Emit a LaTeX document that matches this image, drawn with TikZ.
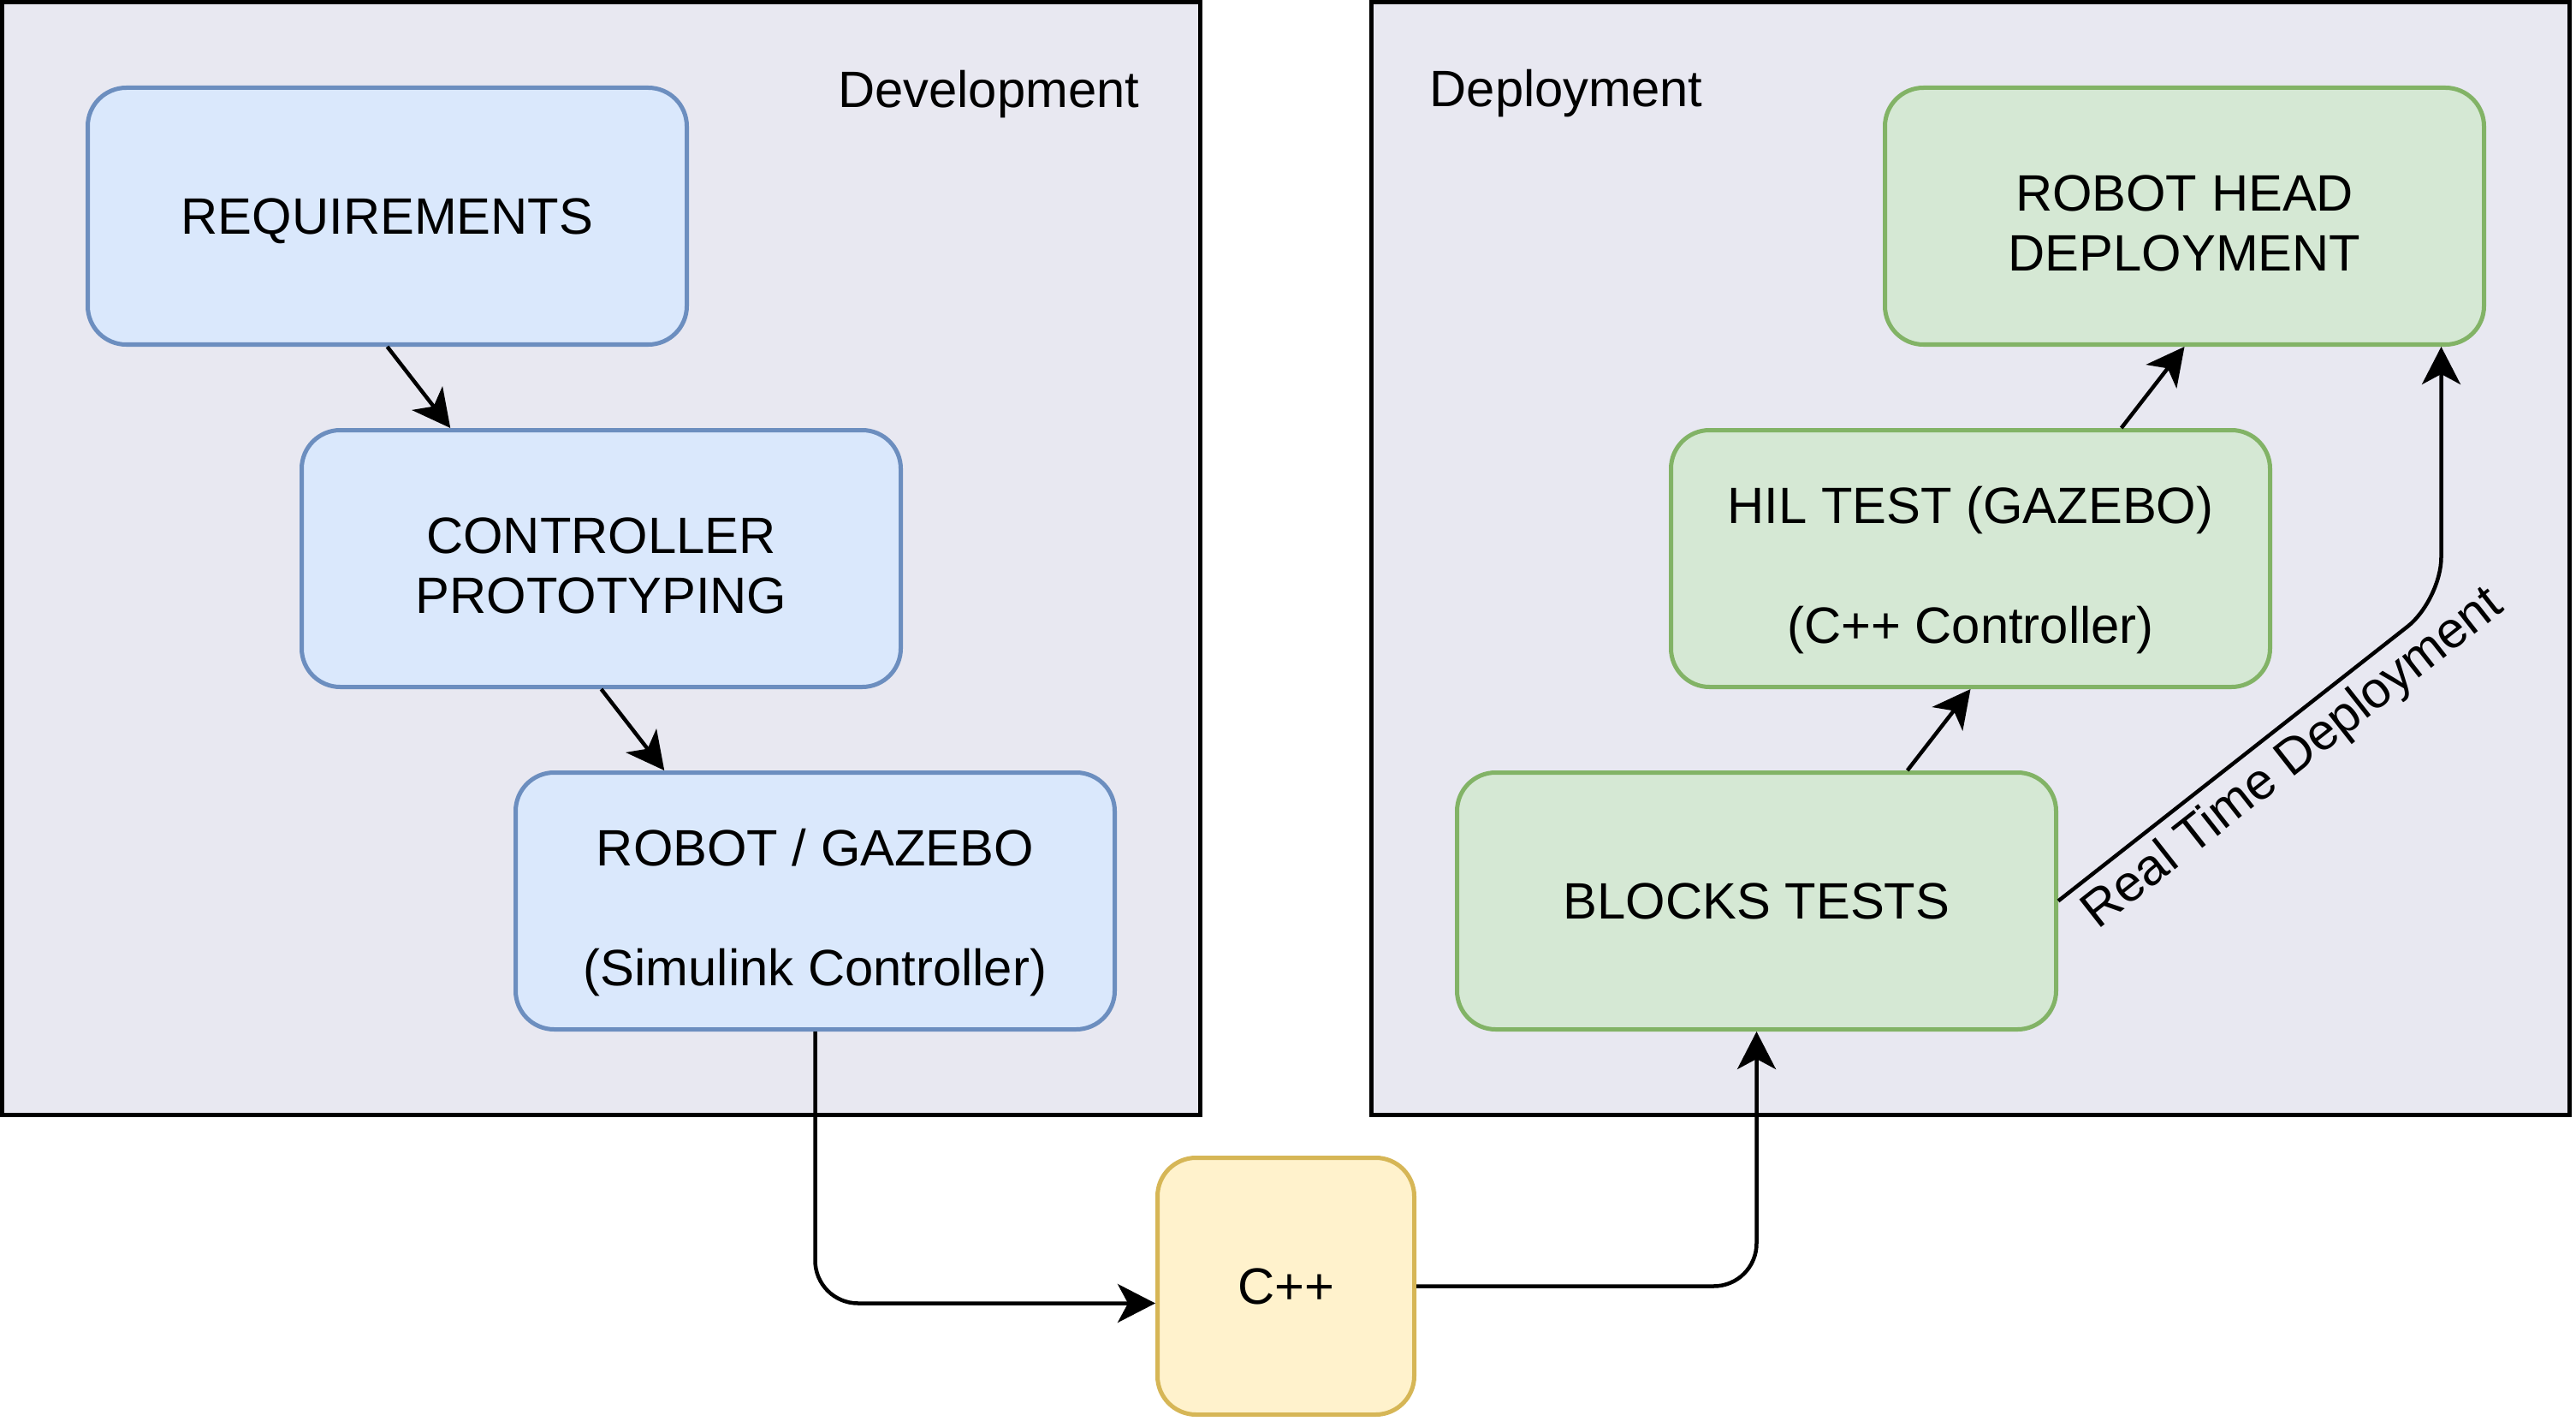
\documentclass[tikz,border=0pt]{standalone}
\usepackage{fontspec}
\setmainfont{Liberation Sans}
\usetikzlibrary{arrows.meta,calc}
\definecolor{panelfill}{RGB}{232,232,241}
\definecolor{devfill}{HTML}{DAE8FC}
\definecolor{devline}{HTML}{6C8EBF}
\definecolor{depfill}{HTML}{D5E8D4}
\definecolor{depline}{HTML}{82B366}
\definecolor{codefill}{HTML}{FFF2CC}
\definecolor{codeline}{HTML}{D6B656}
\newcommand\boxfont{\fontsize{17pt}{19.9pt}\selectfont}
\newcommand\lift{\rule{0pt}{0.58cm}}
\tikzset{panel/.style={draw=black, fill=panelfill, line width=0.05cm},
  stage/.style={draw, rounded corners=0.45cm, line width=0.05cm, minimum width=7cm, minimum height=3cm, align=center, font=\boxfont, inner sep=0pt, text depth=0pt},
  devbox/.style={stage, fill=devfill, draw=devline},
  depbox/.style={stage, fill=depfill, draw=depline},
  codebox/.style={stage, fill=codefill, draw=codeline, minimum width=3cm},
  flow/.style={-{Stealth[length=0.44cm,width=0.45cm,inset=0.12cm]}, line width=0.045cm, black}}

\begin{document}
\begin{tikzpicture}
  \useasboundingbox (0,0) rectangle (30.1,-16.6);
  \draw[panel] (0.025,-0.025) rectangle (14.025,-13.025);
  \draw[panel] (16.025,-0.025) rectangle (30.025,-13.025);
  \node[font=\boxfont, anchor=base east, inner sep=0pt] (devtitle) at (13.32,-1.26) {Development};
  \node[font=\boxfont, anchor=base west, inner sep=0pt] (deptitle) at (16.70,-1.25) {Deployment};

  \node[devbox] (req) at (4.525,-2.525) {REQUIREMENTS};
  \node[devbox] (ctrl) at (7.025,-6.525) {\lift CONTROLLER\\PROTOTYPING};
  \node[devbox] (sim) at (9.525,-10.525) {\lift ROBOT / GAZEBO\\[0.70cm](Simulink Controller)};
  \node[codebox] (cpp) at (15.025,-15.025) {C++};
  \node[depbox] (blocks) at (20.525,-10.525) {BLOCKS TESTS};
  \node[depbox] (hil) at (23.025,-6.525) {\lift HIL TEST (GAZEBO)\\[0.70cm](C++ Controller)};
  \node[depbox] (head) at (25.525,-2.525) {\lift ROBOT HEAD\\DEPLOYMENT};

  \draw[flow] (req.south) -- ($(ctrl.north west)!0.25!(ctrl.north east)$);
  \draw[flow] (ctrl.south) -- ($(sim.north west)!0.25!(sim.north east)$);
  \draw[flow, rounded corners=0.5cm] (sim.south) |- ($(cpp.west)+(0,-0.2)$);
  \draw[flow, rounded corners=0.5cm] (cpp.east) -| (blocks.south);
  \draw[flow] ($(blocks.north west)!0.75!(blocks.north east)$) -- (hil.south);
  \draw[flow] ($(hil.north west)!0.75!(hil.north east)$) -- (head.south);
  \coordinate (bend) at (28.525,-7.01);
  \draw[flow, rounded corners=0.5cm] (blocks.east) -- node[sloped, pos=0.56, anchor=north, inner sep=0.1cm, font=\boxfont] (rtd) {Real Time Deployment} (bend) -- (bend |- head.south);
\end{tikzpicture}
\end{document}
